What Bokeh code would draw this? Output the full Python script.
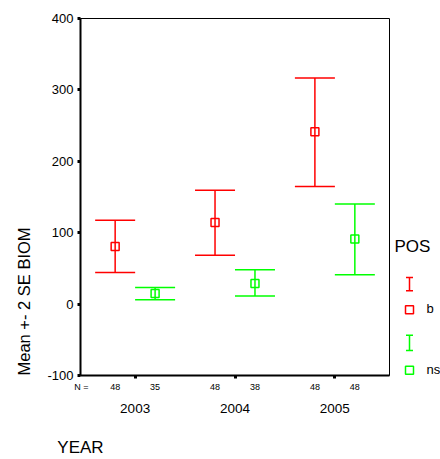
from bokeh.plotting import figure
from bokeh.models import (Range1d, FixedTicker, Whisker, TeeHead, ColumnDataSource,
                          LinearAxis, Title)
from bokeh.layouts import row
from bokeh.core.properties import value
from bokeh.embed import file_html
from bokeh.resources import INLINE

# ---- data ----
years = ["2003", "2004", "2005"]
pos_levels = ["b", "ns"]
mean_b = [80.6, 114.3, 241.5]
upper_b = [117.5, 159.4, 316.5]
lower_b = [44.3, 68.5, 164.6]
mean_ns = [14.8, 29.0, 91.3]
upper_ns = [23.2, 48.0, 140.3]
lower_ns = [6.0, 11.2, 41.0]
n_b = [48, 48, 48]
n_ns = [35, 38, 48]
y_ticks = [-100, 0, 100, 200, 300, 400]
x_title = "YEAR"
y_title = "Mean +- 2 SE BIOM"
legend_title = "POS"

RED = "#ff0000"
GREEN = "#00ff00"
FONT = "Liberation Sans"
OFFSET = 0.2
N_POS = -0.537    # where the "N =" caption sits on the x scale
XLAB_POS = -0.333  # centre of the x title on the x scale

p = figure(width=392, height=459, output_backend="svg", toolbar_location=None,
           x_range=Range1d(-0.547, 2.547), y_range=Range1d(-100, 400),
           min_border_left=78, min_border_right=3, min_border_top=18, min_border_bottom=83)
p.grid.visible = False
p.outline_line_color = "black"
p.outline_line_width = 1

# y axis
ya = p.yaxis[0]
ya.axis_line_width = 2
ya.axis_line_color = "black"
ya.major_tick_out = 3
ya.major_tick_in = 0
ya.major_tick_line_width = 3
ya.minor_tick_line_color = None
ya.ticker = FixedTicker(ticks=y_ticks)
ya.major_label_overrides = {t: str(t) for t in y_ticks}
ya.major_label_text_font = FONT
ya.major_label_text_font_size = "13px"
ya.major_label_text_color = "black"
ya.major_label_standoff = 4

# x axis 1: year tick marks (as minor ticks) + case counts (as labelled major ticks)
count_pos = [N_POS]
count_txt = {N_POS: "N ="}
for i in range(len(years)):
    for off, ns in ((-OFFSET, n_b), (OFFSET, n_ns)):
        x = i + off
        count_pos.append(x)
        count_txt[x] = str(ns[i])
xa = p.xaxis[0]
xa.ticker = FixedTicker(ticks=count_pos, minor_ticks=list(range(len(years))))
xa.major_label_overrides = count_txt
xa.axis_line_width = 2
xa.axis_line_color = "black"
xa.major_tick_line_color = None
xa.major_tick_out = 0
xa.major_tick_in = 0
xa.minor_tick_out = 3
xa.minor_tick_in = 0
xa.minor_tick_line_width = 3
xa.minor_tick_line_color = "black"
xa.major_label_text_font = FONT
xa.major_label_text_font_size = "9px"
xa.major_label_text_color = "black"
xa.major_label_standoff = 3

# x axis 2: year labels (+ the x title)
xa2 = LinearAxis(ticker=FixedTicker(ticks=list(range(len(years)))),
                 major_label_overrides={i: y for i, y in enumerate(years)})
xa2.axis_line_color = None
xa2.major_tick_line_color = None
xa2.minor_tick_line_color = None
xa2.major_tick_out = 0
xa2.major_tick_in = 0
xa2.major_label_text_font = FONT
xa2.major_label_text_font_size = "13.5px"
xa2.major_label_text_color = "black"
xa2.major_label_standoff = 9
xa2.axis_label = x_title
xa2.axis_label_text_font = FONT
xa2.axis_label_text_font_size = "17px"
xa2.axis_label_text_font_style = "normal"
xa2.axis_label_text_color = "black"
xa2.axis_label_standoff = 22
try:
    xa2.axis_label_align = "start"
    xa2.bounds = (XLAB_POS, 2.547)
except Exception:
    pass
p.add_layout(xa2, "below")

p.add_layout(Title(text=y_title, align="left", text_font=FONT,
                   text_font_size="16.5px", text_font_style="normal",
                   text_color="black", standoff=24), "left")

series = [
    (pos_levels[0], -OFFSET, mean_b, upper_b, lower_b, RED),
    (pos_levels[1], OFFSET, mean_ns, upper_ns, lower_ns, GREEN),
]
for name, off, mean, up, lo, color in series:
    xs = [i + off for i in range(len(years))]
    src = ColumnDataSource(dict(x=xs, mean=mean, upper=up, lower=lo))
    w = Whisker(source=src, base="x", upper="upper", lower="lower", dimension="height",
                line_color=color, line_width=1.5,
                upper_head=TeeHead(size=40, line_color=color, line_width=1.5),
                lower_head=TeeHead(size=40, line_color=color, line_width=1.5))
    p.add_layout(w)
    p.scatter("x", "mean", source=src, marker="square", size=8, fill_color=None,
              line_color=color, line_width=1.5)

# ---- legend panel (its frame is aligned with the main frame: page y 18..376) ----
lg = figure(width=48, height=459, output_backend="svg", toolbar_location=None,
            x_range=Range1d(0, 48), y_range=Range1d(376, 18),
            x_axis_type=None, y_axis_type=None,
            min_border=0, min_border_left=0, min_border_right=0,
            min_border_top=18, min_border_bottom=83)
lg.outline_line_color = None
lg.grid.visible = False

lg.text(x=[2], y=[247], text=[legend_title], text_font=value(FONT), text_font_size="17px",
        text_baseline="middle", text_align="left", text_color="black")
legend_rows = [(pos_levels[0], RED, 277.7, 291.0, 310.0), (pos_levels[1], GREEN, 335.7, 351.0, 370.7)]
for name, color, top, bot, sq in legend_rows:
    lsrc = ColumnDataSource(dict(x=[17], up=[top], lo=[bot]))
    lg.add_layout(Whisker(source=lsrc, base="x", upper="up", lower="lo", dimension="height",
                          line_color=color, line_width=1.5,
                          upper_head=TeeHead(size=7, line_color=color, line_width=1.5),
                          lower_head=TeeHead(size=7, line_color=color, line_width=1.5)))
    lg.scatter(x=[17], y=[sq], marker="square", size=8, fill_color=None,
               line_color=color, line_width=1.5)
    lg.text(x=[34], y=[sq - 1], text=[name], text_font=value(FONT), text_font_size="13px",
            text_baseline="middle", text_align="left", text_color="black")

layout = row(p, lg)
open("out.html", "w").write(file_html(layout, INLINE))
